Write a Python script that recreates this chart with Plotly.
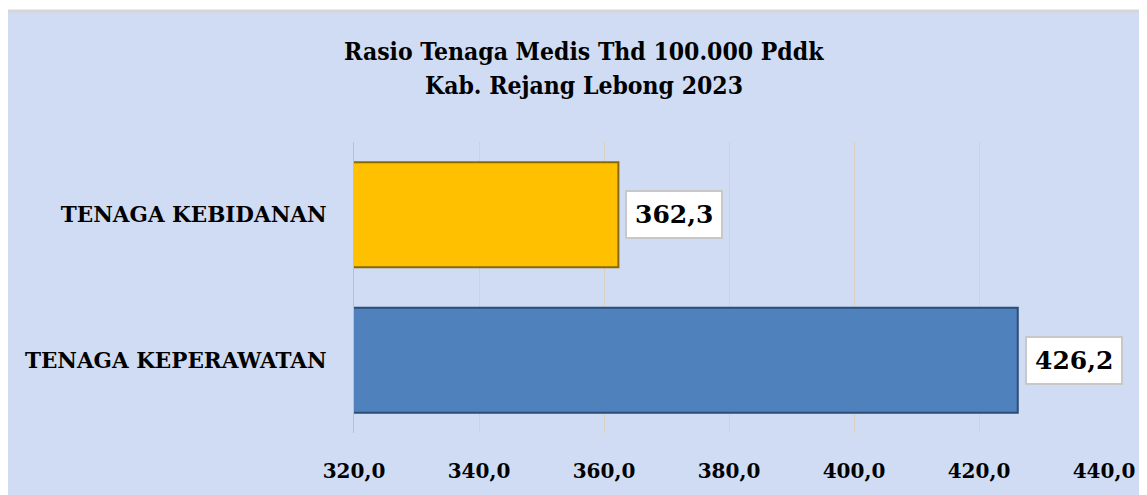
import plotly.graph_objects as go

categories = ["TENAGA KEBIDANAN", "TENAGA KEPERAWATAN"]
values = [362.3, 426.2]
bar_colors = ["#FFC000", "#4F81BD"]
edge_colors = ["#8a6a00", "#2c4d75"]
tick_vals = [320, 340, 360, 380, 400, 420, 440]
title_lines = ["Rasio Tenaga Medis Thd 100.000 Pddk", "Kab. Rejang Lebong 2023"]

label_font = "DejaVu Serif, Liberation Serif, serif"
title_font = "DejaVu Serif Condensed, DejaVu Serif, serif"

W, H = 1139, 487

fig = go.Figure()
fig.add_trace(go.Bar(
    y=categories, x=values, orientation="h", base=0,
    marker=dict(color=bar_colors, line=dict(color=edge_colors, width=2)),
    width=0.72, showlegend=False, hoverinfo="skip",
))

for cat, v in zip(categories, values):
    fig.add_annotation(
        x=v, y=cat, xref="x", yref="y", xanchor="left", yanchor="middle",
        xshift=7, showarrow=False,
        text=f"{v:.1f}".replace(".", ","),
        font=dict(family=label_font, size=25, color="#000000", weight="bold"),
        bgcolor="#ffffff", bordercolor="#c8c8c8", borderwidth=2, borderpad=8,
    )

# title lines
for line, ty in zip(title_lines, [1.31, 1.195]):
    fig.add_annotation(
        x=0.307, y=ty, xref="paper", yref="paper", xanchor="center",
        yanchor="middle", showarrow=False, text=line,
        font=dict(family=title_font, size=24.5, color="#000000", weight="bold"),
    )

# chart area background with border
fig.add_shape(type="rect", xref="paper", yref="paper",
              x0=-0.4663, x1=1.2, y0=-0.4, y1=1.45,
              fillcolor="#cfdcf4", line=dict(color="#d6d6d6", width=3),
              layer="below")

fig.update_layout(
    width=W, height=H,
    margin=dict(l=346, r=43, t=134, b=40),
    paper_bgcolor="#ffffff", plot_bgcolor="rgba(0,0,0,0)",
    separators=",.",
    xaxis=dict(range=[320, 440], tickvals=tick_vals, tickformat=".1f",
               showgrid=True, gridcolor="#d9cfc4", gridwidth=1,
               zeroline=False, showline=False, ticks="",
               tickfont=dict(family=label_font, size=20, color="#000000", weight="bold"),
               ticklabelstandoff=24),
    yaxis=dict(categoryorder="array", categoryarray=categories,
               autorange="reversed", showgrid=False, zeroline=False,
               showline=True, linecolor="#c0c0c0", linewidth=1, ticks="",
               tickfont=dict(family=label_font, size=21.5, color="#000000", weight="bold"),
               ticklabelstandoff=22),
)

fig.write_html("out.html")
